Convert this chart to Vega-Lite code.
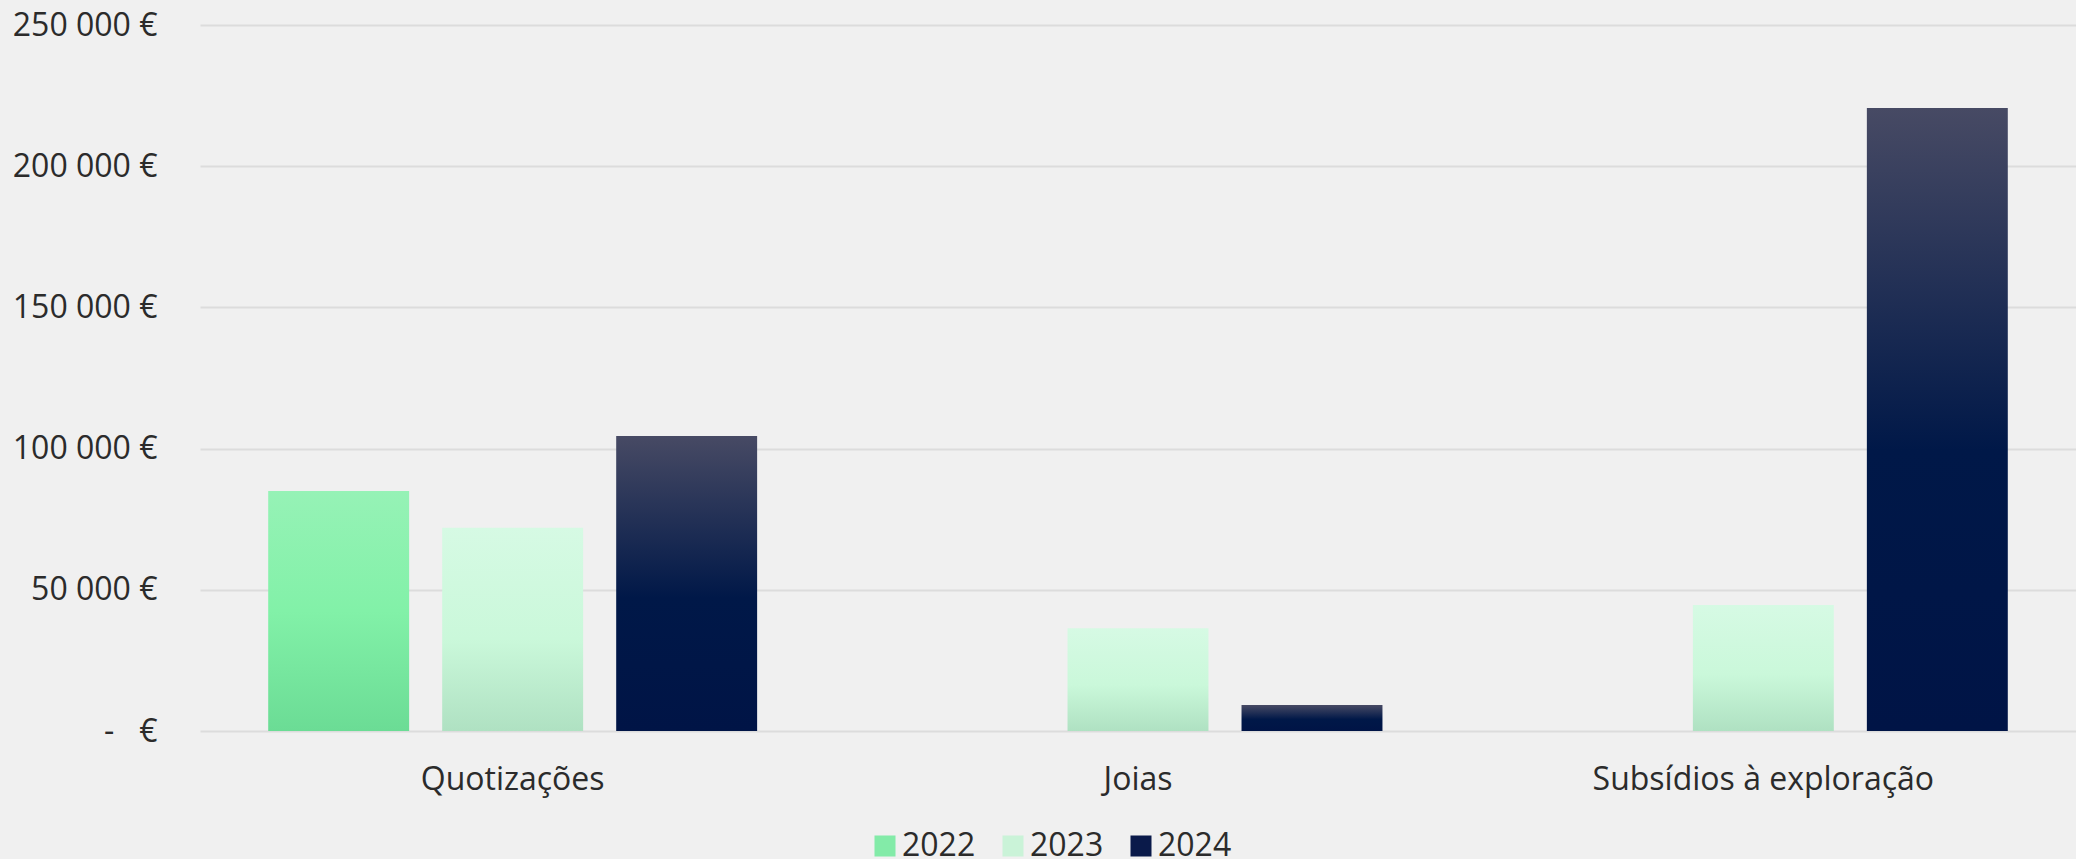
{
  "$schema": "https://vega.github.io/schema/vega-lite/v6.json",
  "width": 1876,
  "height": 706,
  "autosize": {"type": "none"},
  "padding": {"left": 200, "top": 25, "right": 0, "bottom": 128},
  "background": "#F0F0F0",
  "config": {
    "view": {"stroke": null},
    "font": "Open Sans",
    "locale": {"number": {"decimal": ",", "thousands": " ", "grouping": [3], "currency": ["", " €"]}}
  },
  "data": {
    "values": [
      {"categoria": "Quotizações", "ano": "2022", "valor": 85000},
      {"categoria": "Quotizações", "ano": "2023", "valor": 72000},
      {"categoria": "Quotizações", "ano": "2024", "valor": 104500},
      {"categoria": "Joias", "ano": "2023", "valor": 36400},
      {"categoria": "Joias", "ano": "2024", "valor": 9200},
      {"categoria": "Subsídios à exploração", "ano": "2023", "valor": 44600},
      {"categoria": "Subsídios à exploração", "ano": "2024", "valor": 220600}
    ]
  },
  "encoding": {
    "x": {
      "field": "categoria",
      "type": "nominal",
      "sort": ["Quotizações", "Joias", "Subsídios à exploração"],
      "scale": {"paddingInner": 0, "paddingOuter": 0},
      "axis": {
        "title": null,
        "labelAngle": 0,
        "labelFontSize": 32,
        "labelColor": "#2B2B2B",
        "labelPadding": 33,
        "labelLimit": 0,
        "ticks": false,
        "tickSize": 0,
        "domain": false,
        "grid": false
      }
    },
    "xOffset": {
      "field": "ano",
      "type": "nominal",
      "scale": {"domain": ["2022", "2023", "2024"], "paddingInner": 0.19, "paddingOuter": 0.392}
    },
    "y": {
      "field": "valor",
      "type": "quantitative",
      "scale": {"domain": [0, 250000], "nice": false},
      "axis": {
        "title": null,
        "values": [0, 50000, 100000, 150000, 200000, 250000],
        "format": ",.0f",
        "labelExpr": "datum.value == 0 ? '-\u00a0\u00a0\u00a0€' : datum.label + ' €'",
        "labelFontSize": 32,
        "labelColor": "#2B2B2B",
        "labelPadding": 43,
        "ticks": false,
        "tickSize": 0,
        "domain": false,
        "grid": true,
        "gridColor": "#DCDCDC",
        "gridWidth": 2
      }
    }
  },
  "layer": [
    {
      "mark": {"type": "bar", "opacity": 0, "strokeWidth": 0},
      "encoding": {
        "color": {
          "field": "ano",
          "type": "nominal",
          "scale": {"domain": ["2022", "2023", "2024"], "range": ["#83EBA8", "#CAF3D8", "#0A1A4A"]},
          "legend": {
            "title": null,
            "orient": "none",
            "direction": "horizontal",
            "legendX": 669,
            "legendY": 805,
            "symbolType": "square",
            "symbolSize": 441,
            "symbolStrokeWidth": 0,
            "symbolOpacity": 1,
            "labelFontSize": 32,
            "labelColor": "#2B2B2B",
            "labelOffset": 1,
            "columnPadding": 21
          }
        }
      }
    },
    {
      "mark": {"type": "bar", "strokeWidth": 0},
      "encoding": {
        "fill": {
          "condition": [
            {"test": "datum.ano === '2022'", "value": {"gradient": "linear", "x1": 0, "y1": 0, "x2": 0, "y2": 1, "stops": [{"offset": 0, "color": "#96F2B6"}, {"offset": 0.5, "color": "#82F1A8"}, {"offset": 1, "color": "#6BDC95"}]}},
            {"test": "datum.ano === '2023'", "value": {"gradient": "linear", "x1": 0, "y1": 0, "x2": 0, "y2": 1, "stops": [{"offset": 0, "color": "#D6FAE4"}, {"offset": 0.55, "color": "#CAF8DA"}, {"offset": 1, "color": "#AFE1C2"}]}}
          ],
          "value": {"gradient": "linear", "x1": 0, "y1": 0, "x2": 0, "y2": 1, "stops": [{"offset": 0, "color": "#474A64"}, {"offset": 0.55, "color": "#001848"}, {"offset": 1, "color": "#001446"}]}
        }
      }
    }
  ]
}
